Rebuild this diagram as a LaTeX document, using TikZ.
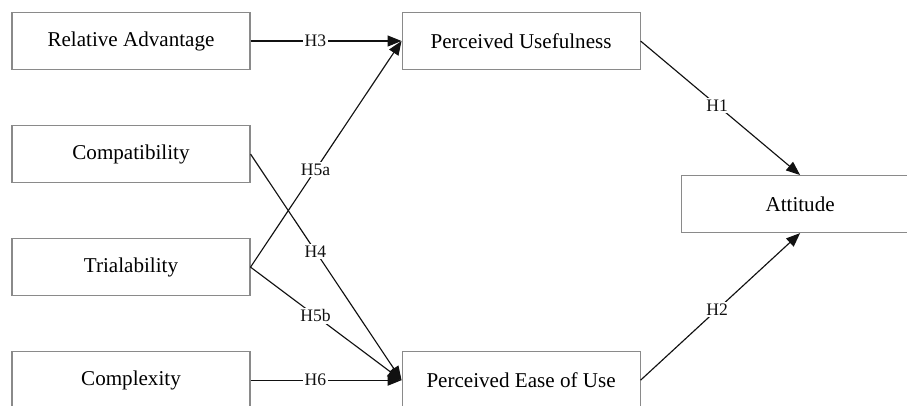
\documentclass[tikz,border=0pt]{standalone}
\usepackage{fontspec}
\setmainfont{Liberation Serif}
\usepackage{tikz}
\usetikzlibrary{arrows.meta,positioning,calc}
\definecolor{BoxGray}{HTML}{8A8A8A}
\definecolor{LineInk}{HTML}{111111}

\begin{document}
\begin{tikzpicture}[node distance=1.1cm,>={Triangle[length=0.28cm,width=0.22cm]},
    box/.style={draw=BoxGray,line width=0.6pt,fill=white,align=center,minimum width=4.76cm,minimum height=1.14cm,font=\fontsize{12}{14}\selectfont},
    link/.style={->,line width=0.65pt,LineInk},
    hyp/.style={fill=white,inner sep=1pt,font=\fontsize{10}{12}\selectfont}]
    \clip (0,0) rectangle (18.14,-8.10);
    
    \node[box] (ra) at (2.62,-0.82) {Relative Advantage};
    \node[box, below=of ra] (comp) {Compatibility};
    \node[box, below=of comp] (trial) {Trialability};
    \node[box, below=of trial] (cplx) {Complexity};
    
    \node[box, right=3.02cm of ra] (pu) {Perceived Usefulness};
    \node[box, right=3.02cm of cplx] (peu) {Perceived Ease of Use};
    
    \node[box, below right=2.1cm and 0.8cm of pu.south east] (att) {Attitude};
    
    \draw[link] (ra.east) -- node[hyp,pos=0.43] {H3} (pu.west);
    \draw[link] (trial.east) -- node[hyp,pos=0.43] {H5a} (pu.west);
    \draw[link] (comp.east) -- node[hyp,pos=0.43] {H4} (peu.west);
    \draw[link] (trial.east) -- node[hyp,pos=0.43] {H5b} (peu.west);
    \draw[link] (cplx.east) -- node[hyp,pos=0.43] {H6} (peu.west);
    
    \draw[link] (pu.east) -- node[hyp,pos=0.48] {H1} (att.north);
    \draw[link] (peu.east) -- node[hyp,pos=0.48] {H2} (att.south);
  \end{tikzpicture}
\end{document}
